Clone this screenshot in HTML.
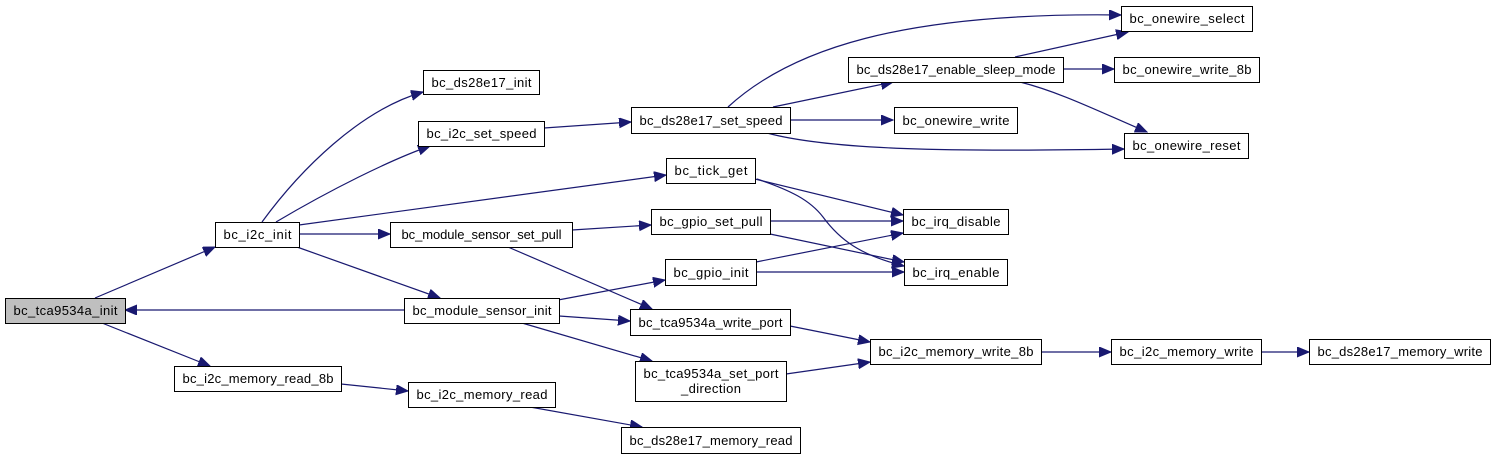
<!DOCTYPE html>
<html><head><meta charset="utf-8"><style>
html,body{margin:0;padding:0;background:#fff;}
svg{display:block;}
text{font-family:"Liberation Sans",sans-serif;font-size:13px;fill:#000;}
rect{stroke:#000;stroke-width:1;fill:#fff;}
path{stroke:#191970;stroke-width:1.2;fill:none;}
</style></head><body>
<svg width="1496" height="459" viewBox="0 0 1496 459" xmlns="http://www.w3.org/2000/svg">
<defs>
<marker id="a" markerUnits="userSpaceOnUse" markerWidth="13" markerHeight="11" refX="12" refY="5" orient="auto">
<path d="M0,0 L12,5 L0,10 Z" style="fill:#191970;stroke:#191970;stroke-width:1"/>
</marker>
</defs>
<g marker-end="url(#a)">
<path d="M95,298 L215,247"/>
<path d="M102,323 L210,366"/>
<path d="M404,310 L125,310"/>
<path d="M262,222 C300,170 360,110 423,92"/>
<path d="M276,222 C330,190 390,160 430,146"/>
<path d="M299,225 L666,175"/>
<path d="M299,234 L390,234"/>
<path d="M297,247 L440,298"/>
<path d="M544,128 L631,122"/>
<path d="M572,230 L651,225"/>
<path d="M508,247 L652,309"/>
<path d="M558,300 L665,280"/>
<path d="M559,316 L630,321"/>
<path d="M522,323 L652,361"/>
<path d="M341,384 L408,391"/>
<path d="M530,407 L642,427"/>
<path d="M728,107 C790,50 900,12 1121,15"/>
<path d="M773,107 L893,82"/>
<path d="M790,120 L893,120"/>
<path d="M767,133 C830,150 950,152 1124,149"/>
<path d="M1015,57 L1128,32"/>
<path d="M1063,69 L1114,69"/>
<path d="M1020,82 C1060,92 1100,112 1147,132"/>
<path d="M755,179 L903,215"/>
<path d="M757,179 C790,190 810,200 823,217 C840,240 860,255 904,266"/>
<path d="M770,221 L903,221"/>
<path d="M770,234 L904,262"/>
<path d="M756,262 L903,233"/>
<path d="M756,272 L904,272"/>
<path d="M790,326 L870,342"/>
<path d="M786,374 L870,362"/>
<path d="M1041,352 L1111,352"/>
<path d="M1261,352 L1309,352"/>
</g>
<g>
<rect x="5.5" y="298.5" width="120" height="25" style="fill:#bfbfbf"/><text x="65.5" y="315" text-anchor="middle" textLength="104">bc_tca9534a_init</text>
<rect x="215.5" y="222.5" width="84" height="25"/><text x="257.5" y="239" text-anchor="middle" textLength="68">bc_i2c_init</text>
<rect x="174.5" y="366.5" width="167" height="25"/><text x="258" y="383" text-anchor="middle" textLength="151">bc_i2c_memory_read_8b</text>
<rect x="423.5" y="70.5" width="116" height="24"/><text x="481.5" y="87" text-anchor="middle" textLength="100">bc_ds28e17_init</text>
<rect x="418.5" y="121.5" width="126" height="25"/><text x="481.5" y="138" text-anchor="middle" textLength="110">bc_i2c_set_speed</text>
<rect x="390.5" y="222.5" width="182" height="25"/><text x="481.5" y="239" text-anchor="middle" textLength="160">bc_module_sensor_set_pull</text>
<rect x="404.5" y="298.5" width="155" height="25"/><text x="482" y="315" text-anchor="middle" textLength="139">bc_module_sensor_init</text>
<rect x="408.5" y="382.5" width="147" height="25"/><text x="482" y="399" text-anchor="middle" textLength="131">bc_i2c_memory_read</text>
<rect x="631.5" y="107.5" width="159" height="26"/><text x="711" y="125" text-anchor="middle" textLength="143">bc_ds28e17_set_speed</text>
<rect x="666.5" y="158.5" width="89" height="25"/><text x="711" y="175" text-anchor="middle" textLength="73">bc_tick_get</text>
<rect x="651.5" y="209.5" width="119" height="25"/><text x="711" y="226" text-anchor="middle" textLength="103">bc_gpio_set_pull</text>
<rect x="665.5" y="259.5" width="91" height="26"/><text x="711" y="277" text-anchor="middle" textLength="75">bc_gpio_init</text>
<rect x="630.5" y="309.5" width="160" height="26"/><text x="710.5" y="327" text-anchor="middle" textLength="144">bc_tca9534a_write_port</text>
<rect x="635.5" y="361.5" width="151" height="40"/><text x="711" y="378" text-anchor="middle" textLength="135">bc_tca9534a_set_port</text><text x="711" y="393" text-anchor="middle" textLength="60">_direction</text>
<rect x="621.5" y="427.5" width="179" height="26"/><text x="711" y="445" text-anchor="middle" textLength="163">bc_ds28e17_memory_read</text>
<rect x="848.5" y="57.5" width="215" height="25"/><text x="956" y="74" text-anchor="middle" textLength="199">bc_ds28e17_enable_sleep_mode</text>
<rect x="894.5" y="107.5" width="123" height="26"/><text x="956" y="125" text-anchor="middle" textLength="107">bc_onewire_write</text>
<rect x="903.5" y="209.5" width="105" height="25"/><text x="956" y="226" text-anchor="middle" textLength="89">bc_irq_disable</text>
<rect x="904.5" y="259.5" width="103" height="26"/><text x="956" y="277" text-anchor="middle" textLength="87">bc_irq_enable</text>
<rect x="870.5" y="339.5" width="171" height="25"/><text x="956" y="356" text-anchor="middle" textLength="155">bc_i2c_memory_write_8b</text>
<rect x="1121.5" y="6.5" width="131" height="25"/><text x="1187" y="23" text-anchor="middle" textLength="115">bc_onewire_select</text>
<rect x="1114.5" y="57.5" width="145" height="25"/><text x="1187" y="74" text-anchor="middle" textLength="129">bc_onewire_write_8b</text>
<rect x="1124.5" y="133.5" width="124" height="25"/><text x="1186.5" y="150" text-anchor="middle" textLength="108">bc_onewire_reset</text>
<rect x="1111.5" y="339.5" width="150" height="25"/><text x="1186.5" y="356" text-anchor="middle" textLength="134">bc_i2c_memory_write</text>
<rect x="1309.5" y="339.5" width="181" height="25"/><text x="1400" y="356" text-anchor="middle" textLength="165">bc_ds28e17_memory_write</text>
</g>
</svg>
</body></html>
